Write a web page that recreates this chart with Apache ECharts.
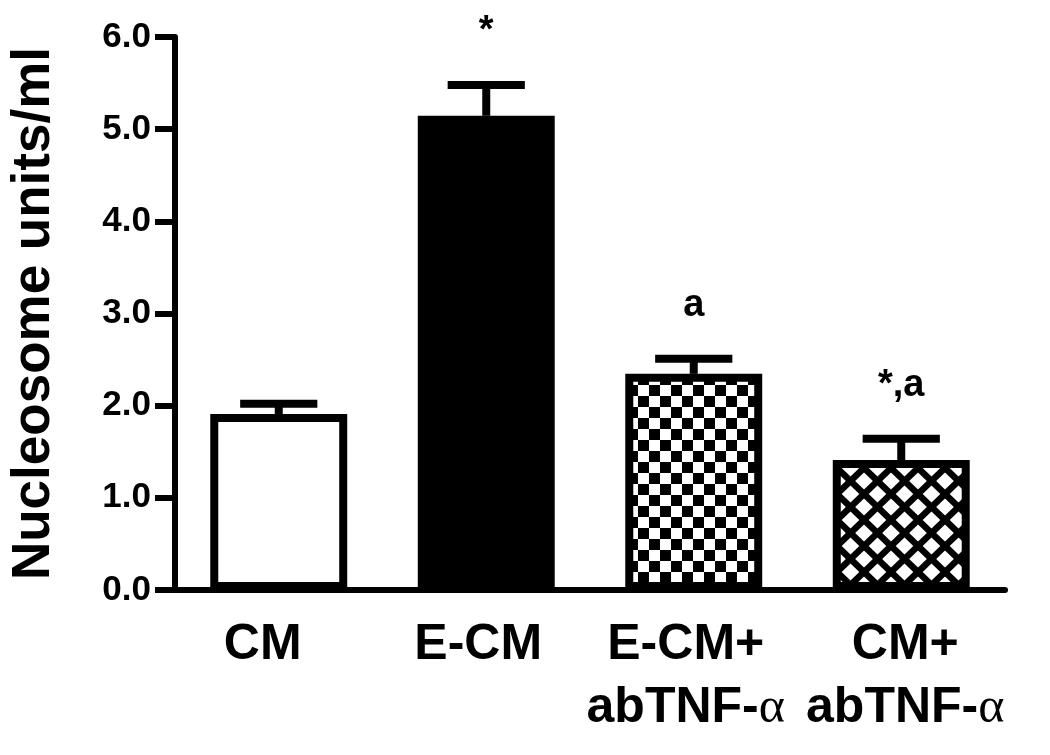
<!DOCTYPE html>
<html>
<head>
<meta charset="utf-8">
<script src="https://cdn.jsdelivr.net/npm/echarts@6/dist/echarts.min.js"></script>
<style>
html,body{margin:0;padding:0;background:#fff;}
#chart{width:1050px;height:755px;}
</style>
</head>
<body>
<div id="chart"></div>
<script>
// ---- data ----
const categories = ['CM', 'E-CM', 'E-CM+\nabTNF-α', 'CM+\nabTNF-α'];
const means = [1.91, 5.145, 2.345, 1.41];
const errors = [0.11, 0.335, 0.165, 0.23];
const annotations = ['', '*', 'a', '*,a'];
const yMin = 0, yMax = 6, yInterval = 1;

// ---- styles ----
const labelShift = [-16, -8, -8, 4]; // horizontal nudge of category labels (px)

function checkerPattern() {
  const c = document.createElement('canvas');
  c.width = 22; c.height = 22;
  const g = c.getContext('2d');
  g.fillStyle = '#fff'; g.fillRect(0, 0, 22, 22);
  g.fillStyle = '#000';
  g.fillRect(0, 0, 11, 11);
  g.fillRect(11, 11, 11, 11);
  return c;
}
function crossPattern() {
  const w = 27, h = 26;
  const c = document.createElement('canvas');
  c.width = w; c.height = h;
  const g = c.getContext('2d');
  g.fillStyle = '#fff'; g.fillRect(0, 0, w, h);
  g.strokeStyle = '#000'; g.lineWidth = 6.5;
  for (const dx of [-w, 0, w]) {
    g.beginPath(); g.moveTo(dx, 0); g.lineTo(dx + w, h); g.stroke();
    g.beginPath(); g.moveTo(dx + w, 0); g.lineTo(dx, h); g.stroke();
  }
  return c;
}
const fills = [
  '#ffffff',
  '#000000',
  { image: checkerPattern(), repeat: 'repeat' },
  { image: crossPattern(), repeat: 'repeat' }
];

const FONT = '"Liberation Sans", Arial, Helvetica, sans-serif';

const chart = echarts.init(document.getElementById('chart'), null, { renderer: 'canvas' });

const barData = means.map((v, i) => ({
  value: v,
  itemStyle: { color: fills[i], borderColor: '#000', borderWidth: 8 }
}));
const errData = means.map((v, i) => [i, v, errors[i]]);
const xData = categories.map((c, i) => {
  const s = labelShift[i];
  return {
    value: c,
    textStyle: { padding: s < 0 ? [0, -2 * s, 0, 0] : [0, 0, 0, 2 * s] }
  };
});

chart.setOption({
  backgroundColor: '#fff',
  animation: false,
  grid: { left: 175, right: 45, top: 37, bottom: 165, containLabel: false, outerBoundsMode: 'none' },
  xAxis: {
    type: 'category',
    data: xData,
    axisLine: { lineStyle: { color: '#000', width: 6 } },
    axisTick: { show: false },
    axisLabel: {
      interval: 0,
      margin: 24,
      formatter: function (v) {
        return v.split('\n').map(function (line) {
          if (line.indexOf('α') >= 0) {
            return '{b|' + line.replace('α', '') + '}{g|α}';
          }
          return '{b|' + line + '}';
        }).join('\n');
      },
      rich: {
        b: { fontFamily: FONT, fontWeight: 'bold', fontSize: 50, color: '#000', lineHeight: 63 },
        g: { fontFamily: '"Liberation Serif", "DejaVu Serif", serif', fontWeight: 'normal', fontSize: 50, color: '#000', lineHeight: 63 }
      }
    }
  },
  yAxis: {
    type: 'value',
    min: yMin, max: yMax, interval: yInterval,
    name: 'Nucleosome units/ml',
    nameLocation: 'middle',
    nameGap: 114,
    nameTextStyle: { fontFamily: FONT, fontWeight: 'bold', fontSize: 53, color: '#000' },
    axisLine: { show: true, lineStyle: { color: '#000', width: 6 } },
    axisTick: { show: true, length: 20, lineStyle: { color: '#000', width: 6 } },
    splitLine: { show: false },
    axisLabel: {
      margin: 24,
      fontFamily: FONT, fontWeight: 'bold', fontSize: 35, color: '#000',
      formatter: function (v) { return v.toFixed(1); }
    }
  },
  series: [
    {
      type: 'bar',
      data: barData,
      barWidth: '66%',
      z: 2
    },
    {
      type: 'custom',
      z: 3,
      data: errData,
      renderItem: function (params, api) {
        const i = api.value(0);
        const m = api.value(1);
        const e = api.value(2);
        const txt = annotations[i];
        const p0 = api.coord([i, m]);
        const p1 = api.coord([i, m + e]);
        const half = api.size([1, 0])[0] * 0.186;
        const children = [
          { type: 'line', shape: { x1: p0[0], y1: p0[1], x2: p1[0], y2: p1[1] }, style: { stroke: '#000', lineWidth: 8 } },
          { type: 'line', shape: { x1: p1[0] - half, y1: p1[1], x2: p1[0] + half, y2: p1[1] }, style: { stroke: '#000', lineWidth: 8 } }
        ];
        if (txt) {
          children.push({
            type: 'text',
            style: {
              text: txt, x: p1[0], y: p1[1] - 34,
              textAlign: 'center', textVerticalAlign: 'bottom',
              fontFamily: FONT, fontWeight: 'bold', fontSize: 38, fill: '#000'
            }
          });
        }
        return { type: 'group', children: children };
      }
    }
  ]
});
</script>
</body>
</html>
